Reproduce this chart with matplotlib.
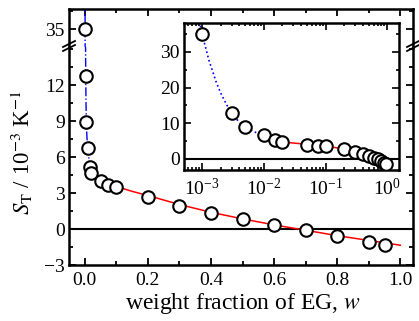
import matplotlib
matplotlib.use("Agg")
import matplotlib.pyplot as plt
from matplotlib.ticker import MultipleLocator, FixedLocator, LogLocator, NullFormatter

# ---- Data
w = [0.001, 0.003, 0.005, 0.01, 0.015, 0.02, 0.05, 0.075, 0.1,
     0.2, 0.3, 0.4, 0.5, 0.6, 0.7, 0.8, 0.9, 0.95]
s_t = [35.0, 12.8, 8.9, 6.8, 5.2, 4.7, 4.0, 3.7, 3.5,
       2.7, 1.9, 1.35, 0.8, 0.33, -0.08, -0.6, -1.05, -1.3]

# fit curves (blue: low-w branch, red: high-w branch)
w_blue = [0.00085, 0.001, 0.0013, 0.0017, 0.002, 0.0025, 0.003,
          0.004, 0.005, 0.007, 0.01, 0.015, 0.02]
s_blue = [41.0, 35.0, 27.5, 21.5, 18.5, 15.2, 12.9,
          10.3, 8.9, 7.6, 6.6, 5.5, 4.9]
w_red = [0.02, 0.05, 0.1, 0.15, 0.2, 0.3, 0.4, 0.5, 0.6, 0.7, 0.8, 0.9, 1.0]
s_red = [4.75, 4.1, 3.55, 3.15, 2.8, 2.05, 1.4, 0.85, 0.35, -0.1, -0.55, -0.95, -1.35]

x_ticks = [0.0, 0.2, 0.4, 0.6, 0.8, 1.0]
x_labels = ["0.0", "0.2", "0.4", "0.6", "0.8", "1.0"]
y_ticks_low = [-3, 0, 3, 6, 9, 12]
y_ticks_high = [35]
inset_y_ticks = [0, 10, 20, 30]

# ---- Style
plt.rcParams["font.family"] = ["Liberation Serif", "DejaVu Serif"]
plt.rcParams["mathtext.fontset"] = "stix"
plt.rcParams["axes.linewidth"] = 1.8

W, H = 419, 321
fig = plt.figure(figsize=(W / 100, H / 100), dpi=100)


def fx(px):
    return px / W


def fy(py):
    return 1 - py / H


left, right, top, brk, bottom = 69, 413, 9, 47, 265
ax_hi = fig.add_axes([fx(left), fy(brk), fx(right - left), fy(top) - fy(brk)])
ax_lo = fig.add_axes([fx(left), fy(bottom), fx(right - left), fy(brk) - fy(bottom)],
                     sharex=ax_hi)

mk = dict(marker="o", ms=9, mfc="white", mec="black", mew=1.5, ls="none", zorder=5)

for ax in (ax_hi, ax_lo):
    ax.plot(w_blue, s_blue, color="blue", ls="-.", lw=1.0, zorder=3)
    ax.plot(w_red, s_red, color="red", ls="-", lw=1.1, zorder=3)
    ax.plot(w, s_t, **mk)
    ax.tick_params(direction="in", which="both", right=True, labelsize=14,
                   width=1.3, pad=3)
    ax.tick_params(which="major", length=5)
    ax.tick_params(which="minor", length=3)

ax_lo.axhline(0, color="black", lw=1.5, zorder=2)

ax_hi.set_ylim(33.5, 36.67)
ax_lo.set_ylim(-3, 15.2)
ax_lo.set_xlim(-0.05, 1.04)

ax_hi.spines["bottom"].set_visible(False)
ax_lo.spines["top"].set_visible(False)
ax_hi.tick_params(which="both", bottom=False, labelbottom=False, top=True)
ax_lo.tick_params(which="both", top=False)

ax_hi.yaxis.set_major_locator(FixedLocator(y_ticks_high))
ax_hi.yaxis.set_minor_locator(FixedLocator([36.5]))
ax_lo.yaxis.set_major_locator(FixedLocator(y_ticks_low))
ax_lo.yaxis.set_minor_locator(MultipleLocator(1.5))
ax_lo.xaxis.set_major_locator(FixedLocator(x_ticks))
ax_lo.set_xticklabels(x_labels)
ax_lo.xaxis.set_minor_locator(MultipleLocator(0.1))
ax_lo.tick_params(axis="x", pad=5)

# break marks on the y axes
for xb in (left, right):
    for dy in (-3, 1):
        fig.add_artist(plt.Line2D([fx(xb - 6), fx(xb + 6)],
                                  [fy(brk + dy + 3), fy(brk + dy - 3)],
                                  color="black", lw=1.3))

fig.text(fx(22), fy(152), r"$S_\mathrm{T}$ / 10$^{-3}$ K$^{-1}$",
         rotation=90, ha="center", va="center", fontsize=16.5)
fig.text(fx(243), fy(304), r"weight fraction of EG, $w$",
         ha="center", va="center", fontsize=17)

# ---- Inset (log w)
ins = fig.add_axes([fx(184), fy(170), fx(399 - 184), fy(23) - fy(170)])
ins.plot(w_blue, s_blue, color="blue", ls=":", lw=1.2, zorder=3)
ins.plot(w_red, s_red, color="red", ls="-", lw=1.1, zorder=3)
ins.plot(w, s_t, **mk)
ins.axhline(0, color="black", lw=1.5, zorder=2)
ins.set_xscale("log")
ins.set_xlim(5.1e-4, 1.55)
ins.set_ylim(-3.1, 38.1)
ins.yaxis.set_major_locator(FixedLocator(inset_y_ticks))
ins.yaxis.set_minor_locator(MultipleLocator(5))
ins.xaxis.set_major_locator(LogLocator(base=10, numticks=10))
ins.xaxis.set_minor_locator(LogLocator(base=10, subs=range(2, 10), numticks=10))
ins.xaxis.set_minor_formatter(NullFormatter())
ins.tick_params(direction="in", which="both", top=True, right=True,
                labelsize=14, width=1.2, pad=3)
ins.tick_params(which="major", length=5)
ins.tick_params(which="minor", length=2.5)
ins.tick_params(axis="x", pad=6)

fig.savefig("out.png", dpi=100)
